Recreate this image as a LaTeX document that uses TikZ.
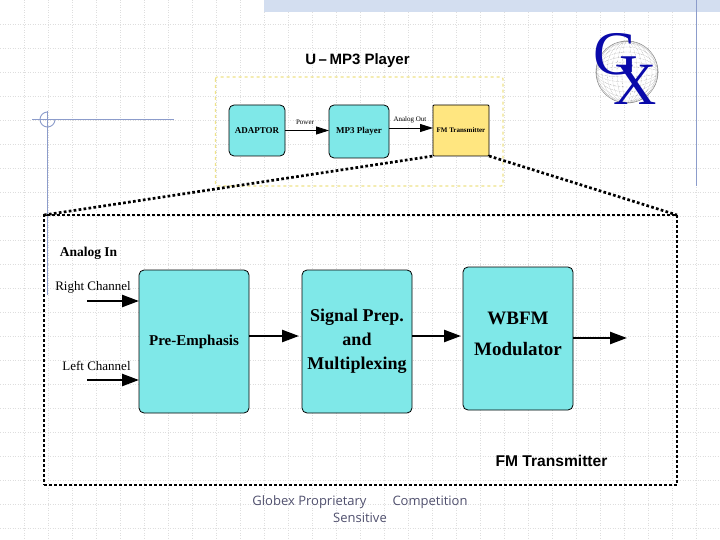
\documentclass[tikz,border=0pt]{standalone}
\usepackage{fontspec}
\setmainfont{Liberation Serif}
\setsansfont{Liberation Sans}
\newfontfamily\footfont{Open Sans}
\usepackage{xcolor}
\usetikzlibrary{positioning, arrows.meta, calc}
\definecolor{blockcyan}{HTML}{7FE8E8}
\definecolor{blockyellow}{HTML}{FFE680}
\definecolor{rulecol}{HTML}{8C9CCB}
\definecolor{logoblue}{HTML}{0A0AAA}
\definecolor{footcol}{HTML}{50506E}
\definecolor{bandcol}{HTML}{D3DEF0}
\definecolor{dashyellow}{HTML}{EFE38A}
\tikzset{
    gridline/.style={black!13, line width=0.5pt, dotted},
    rulerline/.style={rulecol, line width=0.9pt},
    blockbox/.style={draw=black, fill=blockcyan, rounded corners=5pt, line width=0.8pt,
        inner sep=0pt, outer sep=0pt, align=center, font=\bfseries},
    smalltext/.style={font=\fontsize{7}{8}\selectfont, inner sep=0pt},
    sidetext/.style={font=\fontsize{13}{14}\selectfont, inner sep=0pt},
    thinarrow/.style={-{Triangle[length=13pt,width=8pt]}, line width=0.9pt},
    thickarrow/.style={-{Triangle[length=17pt,width=12pt]}, line width=2.4pt},
    zoomline/.style={black, line width=2.7pt, dash pattern=on 2.7pt off 2.3pt},
}
\begin{document}
\begin{tikzpicture}[x=1pt, y=-1pt]
    \useasboundingbox (0,0) rectangle (720,540);
    \fill[white] (0,0) rectangle (720,540);
    % grid and slide furniture
    \foreach \g in {24,48,...,696} {
        \draw[gridline] (\g,0) -- (\g,540);
    }
    \foreach \g in {24,48,...,528} {
        \draw[gridline] (0,\g) -- (720,\g);
    }
    \fill[bandcol] (264,0) rectangle (720,12);
    \draw[rulerline] (696,0) -- (696,186);
    \draw[rulerline] (47.5,111) -- (47.5,295);
    \draw[rulerline] (32,119.5) -- (174,119.5);
    \draw[rulerline] (47.5,112) arc (-90:-360:7.5);

    % logo
    \draw[black!45, fill=white, line width=0.5pt] (627,72) circle (31);
    \foreach \r in {5,10,15,20,25,29} {
        \draw[black!50, line width=0.35pt, densely dotted] (627,72) ellipse (\r pt and 31pt);
        \draw[black!50, line width=0.35pt, densely dotted] (627,72) ellipse (31pt and \r pt);
    }
    \node[logoblue, font=\fontsize{62}{62}\selectfont, inner sep=0pt] (logog) at (616,54) {G};
    \node[logoblue, font=\fontsize{60}{60}\selectfont, inner sep=0pt] (logox) at (635,85) {X};

    % upper diagram
    \node[font=\sffamily\bfseries\fontsize{15}{16}\selectfont, inner sep=0pt] (title) at (357.5,61) {U\,--\,MP3 Player};
    \draw[dashyellow, line width=1.2pt, dashed, rounded corners=2pt] (215.5,77) rectangle (503,186);
    \node[blockbox, font=\fontsize{9}{9}\selectfont\bfseries, minimum width=56pt, minimum height=51pt] (adaptor) at (257,130.5) {ADAPTOR};
    \node[blockbox, font=\fontsize{9}{9}\selectfont\bfseries, minimum width=60pt, minimum height=53pt] (player) at (359,131.5) {MP3 Player};
    \node[blockbox, fill=blockyellow, rounded corners=1pt, font=\fontsize{7}{7}\selectfont\bfseries, minimum width=56pt, minimum height=51pt] (fm) at (461,130.5) {FM Transmitter};
    \draw[thinarrow] (adaptor.east |- 0,130.5) -- (player.west |- 0,130.5);
    \draw[thinarrow] (player.east |- 0,128) -- (fm.west |- 0,128);
    \node[smalltext] (powerlbl) at (305,122) {Power};
    \node[smalltext] (analogout) at (410,120) {Analog Out};

    % lower diagram
    \node[draw=black, zoomline, minimum width=633pt, minimum height=270pt, inner sep=0pt, outer sep=0pt] (outer) at (360.5,350) {};
    \draw[zoomline] (outer.north west) -- (fm.south west);
    \draw[zoomline] (fm.south east) -- (outer.north east);
    \node[blockbox, font=\fontsize{15}{16}\selectfont\bfseries, minimum width=110pt, minimum height=143pt] (preemph) at (194,341.5) {Pre-Emphasis};
    \node[blockbox, font=\fontsize{18}{24}\selectfont\bfseries, minimum width=110pt, minimum height=143pt] (sigprep) at (357,341.5) {Signal Prep.\\and\\Multiplexing};
    \node[blockbox, font=\fontsize{19}{31}\selectfont\bfseries, minimum width=110pt, minimum height=143pt] (wbfm) at (518,338.5) {WBFM\\Modulator\\[-21pt]~};
    \coordinate (rightin) at (87,301);
    \coordinate (leftin) at (87,380);
    \coordinate (fmout) at (627,338);
    \draw[thickarrow] (rightin) -- (preemph.west |- rightin);
    \draw[thickarrow] (leftin) -- (preemph.west |- leftin);
    \draw[thickarrow] (preemph.east |- 0,336) -- ([xshift=-3pt]sigprep.west |- 0,336);
    \draw[thickarrow] (sigprep.east |- 0,336) -- ([xshift=-2pt]wbfm.west |- 0,336);
    \draw[thickarrow] (wbfm.east |- fmout) -- (fmout);
    \node[font=\bfseries\fontsize{13.5}{14}\selectfont, inner sep=0pt] (analogin) at (88.5,253) {Analog In};
    \node[sidetext] (rightlbl) at (93,287) {Right Channel};
    \node[sidetext] (leftlbl) at (96.5,366) {Left Channel};
    \node[font=\sffamily\bfseries\fontsize{15.6}{16}\selectfont, inner sep=0pt] (fmlbl) at (551.5,461) {FM Transmitter};

    % footer
    \node[text=footcol, font=\footfont\fontsize{13}{17}\selectfont, align=center, inner sep=0pt] (footer) at (360,509) {Globex Proprietary\hspace{26pt}Competition\\Sensitive};
\end{tikzpicture}
\end{document}
